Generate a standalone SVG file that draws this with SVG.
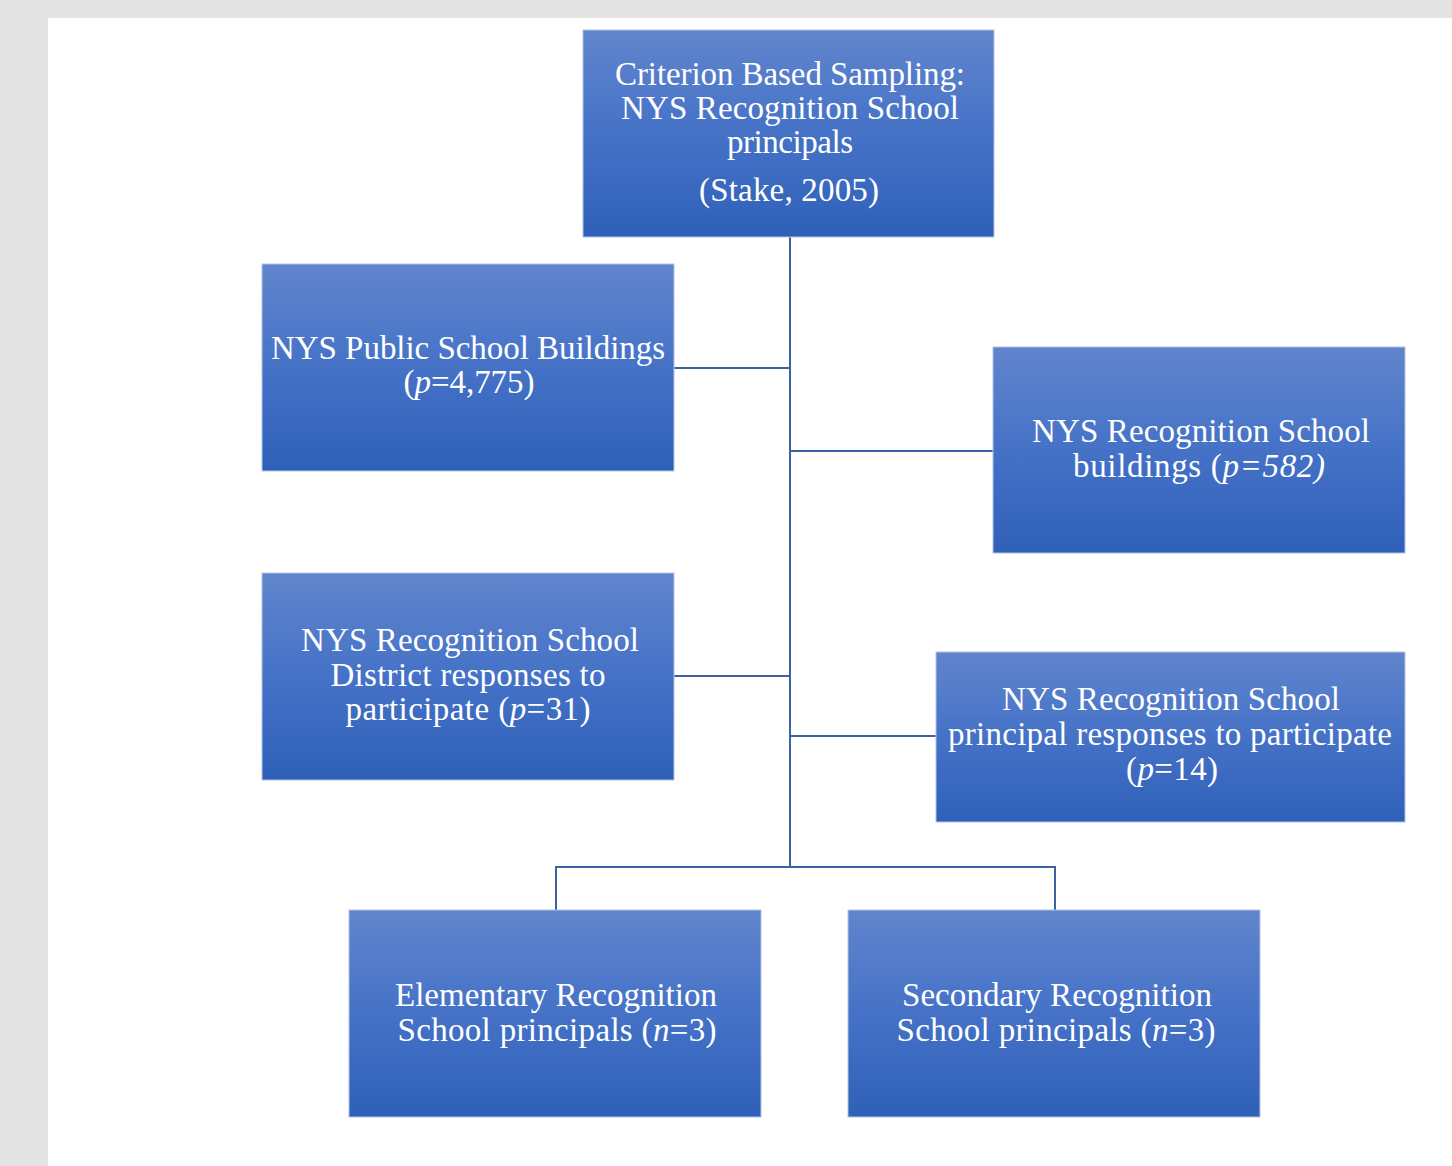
<svg xmlns="http://www.w3.org/2000/svg" width="1452" height="1166" viewBox="0 0 1452 1166">
<defs>
<linearGradient id="g" x1="0" y1="0" x2="0" y2="1">
<stop offset="0" stop-color="#6185cd"/>
<stop offset="0.5" stop-color="#4572c7"/>
<stop offset="1" stop-color="#2f60b8"/>
</linearGradient>
</defs>
<style>
.box{fill:url(#g);stroke:#b4c3e3;stroke-width:1}
.t{font-family:"Liberation Serif","Times New Roman",serif;font-size:33px;fill:#ffffff;text-anchor:middle}
.c{fill:none;stroke:#3e619f;stroke-width:2}
</style>
<rect x="0" y="0" width="1452" height="1166" fill="#e4e4e4"/>
<rect x="48" y="18" width="1404" height="1148" fill="#ffffff"/>
<g id="connectors">
<path class="c" d="M790 237 V867"/>
<path class="c" d="M674 368 H790"/>
<path class="c" d="M790 451 H993"/>
<path class="c" d="M674 676 H790"/>
<path class="c" d="M790 736 H936"/>
<path class="c" d="M556 910 V867 H1055 V910"/>
</g>
<g id="root">
<rect class="box" x="583" y="30" width="411" height="207"/>
<text class="t" x="790" y="85" textLength="350">Criterion Based Sampling:</text>
<text class="t" x="790" y="119" textLength="338">NYS Recognition School</text>
<text class="t" x="790" y="153" textLength="126">principals</text>
<text class="t" x="789" y="201" textLength="180">(Stake, 2005)</text>
</g>
<g id="public">
<rect class="box" x="262" y="264" width="412" height="207"/>
<text class="t" x="468" y="359" textLength="394">NYS Public School Buildings</text>
<text class="t" x="469" y="393" textLength="131">(<tspan font-style="italic">p</tspan>=4,775)</text>
</g>
<g id="recog-buildings">
<rect class="box" x="993" y="347" width="412" height="206"/>
<text class="t" x="1201" y="442" textLength="338">NYS Recognition School</text>
<text class="t" x="1199" y="477" textLength="252">buildings (<tspan font-style="italic">p=582)</tspan></text>
</g>
<g id="district">
<rect class="box" x="262" y="573" width="412" height="207"/>
<text class="t" x="470" y="651" textLength="338">NYS Recognition School</text>
<text class="t" x="468" y="686" textLength="275">District responses to</text>
<text class="t" x="468" y="720" textLength="245">participate (<tspan font-style="italic">p</tspan>=31)</text>
</g>
<g id="principal-responses">
<rect class="box" x="936" y="652" width="469" height="170"/>
<text class="t" x="1171" y="710" textLength="338">NYS Recognition School</text>
<text class="t" x="1170" y="745" textLength="444">principal responses to participate</text>
<text class="t" x="1172" y="780" textLength="92">(<tspan font-style="italic">p</tspan>=14)</text>
</g>
<g id="elementary">
<rect class="box" x="349" y="910" width="412" height="207"/>
<text class="t" x="556" y="1006" textLength="322">Elementary Recognition</text>
<text class="t" x="557" y="1041" textLength="319">School principals (<tspan font-style="italic">n</tspan>=3)</text>
</g>
<g id="secondary">
<rect class="box" x="848" y="910" width="412" height="207"/>
<text class="t" x="1057" y="1006" textLength="310">Secondary Recognition</text>
<text class="t" x="1056" y="1041" textLength="319">School principals (<tspan font-style="italic">n</tspan>=3)</text>
</g>
</svg>
